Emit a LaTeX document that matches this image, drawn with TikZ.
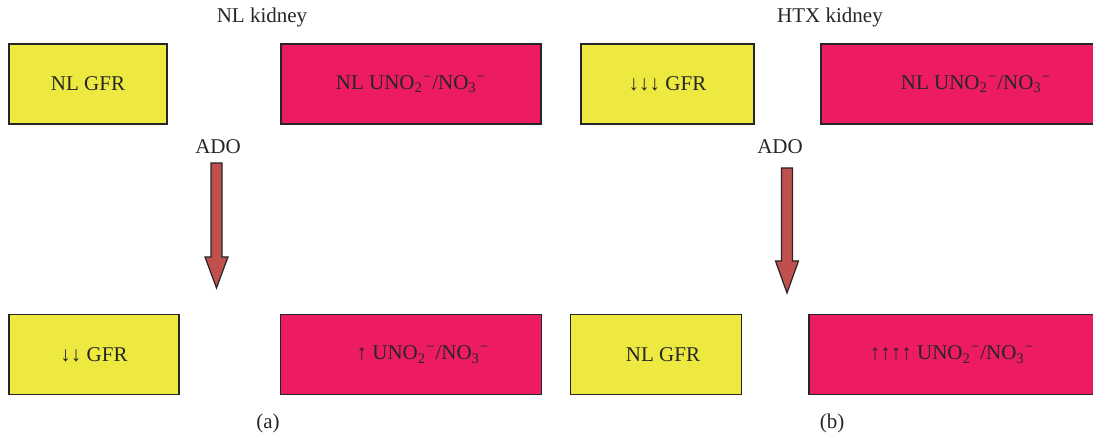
\documentclass[tikz,border=0pt]{standalone}
\usepackage{fontspec}
\setmainfont{Liberation Serif}
\usepackage{tikz}

\definecolor{giallo}{RGB}{237,233,65}
\definecolor{rosa}{RGB}{236,27,99}
\definecolor{rossofreccia}{RGB}{192,80,77}

\begin{document}
\begin{tikzpicture}[x=0.5pt, y=-0.5pt,
    every node/.style={font=\fontsize{10.5}{12}\selectfont, text=black!85},
    scatola/.style={draw=black!85, line width=0.6pt, minimum height=40pt, inner sep=0pt},
    gfr/.style={scatola, fill=giallo},
    uno/.style={scatola, fill=rosa},
    freccia/.style={draw=black!85, line width=0.6pt, fill=rossofreccia}]
    \useasboundingbox (0,0) rectangle (1093,437);

    % Titoli
    \node (tA) at (262,17) {NL kidney};
    \node (tB) at (830,17) {HTX kidney};

    % Riga superiore
    \node[gfr, minimum width=79pt]  (gA1) at (88,84)    {NL GFR};
    \node[uno, minimum width=130pt] (uA1) at (411,84)   {NL UNO\textsubscript{2}\textsuperscript{−}/NO\textsubscript{3}\textsuperscript{−}};
    \node[gfr, minimum width=86.5pt] (gB1) at (667.5,84) {↓↓↓ GFR};
    \node[uno, minimum width=155pt] (uB1) at (976,84)   {NL UNO\textsubscript{2}\textsuperscript{−}/NO\textsubscript{3}\textsuperscript{−}};

    % ADO e frecce
    \node (adoA) at (218,147) {ADO};
    \node (adoB) at (780,147) {ADO};
    \coordinate (fA) at (216.5,163);
    \coordinate (fB) at (787,168);
    \draw[freccia] (fA) ++(-5.5,0) -- ++(0,94) -- ++(-6,0) -- ++(11.5,31) -- ++(11.5,-31) -- ++(-6,0) -- ++(0,-94) -- cycle;  % freccia (a)
    \draw[freccia] (fB) ++(-5.5,0) -- ++(0,93) -- ++(-6,0) -- ++(11.5,32) -- ++(11.5,-32) -- ++(-6,0) -- ++(0,-93) -- cycle;  % freccia (b)

    % Riga inferiore
    \node[gfr, minimum width=85pt]  (gA2) at (94,354.5)  {↓↓ GFR};
    \node[uno, minimum width=130.5pt] (uA2) at (411,354.5) {\hspace{12pt}↑ UNO\textsubscript{2}\textsuperscript{−}/NO\textsubscript{3}\textsuperscript{−}};
    \node[gfr, minimum width=85.5pt] (gB2) at (656,354.5) {\hspace{7pt}NL GFR};
    \node[uno, minimum width=143pt] (uB2) at (952,354.5) {↑↑↑↑ UNO\textsubscript{2}\textsuperscript{−}/NO\textsubscript{3}\textsuperscript{−}};

    % Etichette
    \node (la) at (268,423) {(a)};
    \node (lb) at (832,423) {(b)};
\end{tikzpicture}
\end{document}
